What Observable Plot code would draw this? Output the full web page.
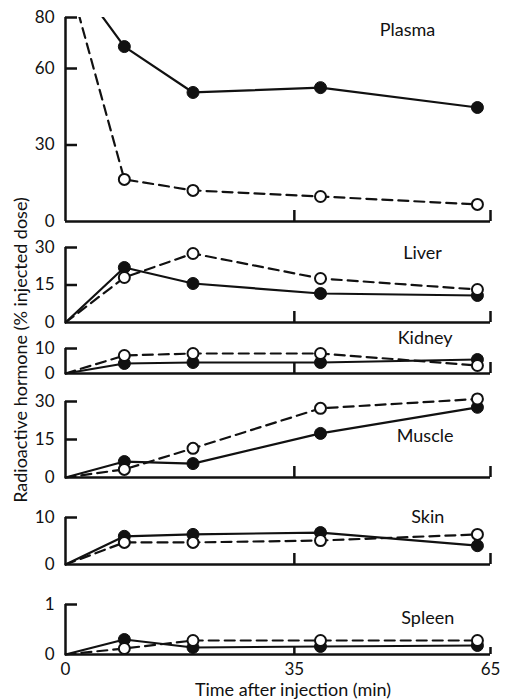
<!DOCTYPE html>
<html><head><meta charset="utf-8">
<script src="https://cdn.jsdelivr.net/npm/d3@7"></script>
<script src="https://cdn.jsdelivr.net/npm/@observablehq/plot@0.6"></script>
<style>
body{margin:0;background:#fff;}
#chart{position:relative;width:505px;height:699px;font-family:Lato,"Open Sans",sans-serif;color:#111;overflow:hidden;}
#chart svg{position:absolute;left:0;}
.title{position:absolute;white-space:nowrap;font-size:18px;color:#111;}
</style></head><body><div id="chart"></div>
<script>
// ---- data ----
const times = [0, 9, 19.5, 39, 63];
const xTicks = [0, 35, 65];
const organs = ["Plasma", "Liver", "Kidney", "Muscle", "Skin", "Spleen"];
const plasmaSolid = [100, 68.6, 50.6, 52.5, 44.7];
const plasmaOpen  = [100, 16.5, 12.2, 9.8, 6.7];
const liverSolid  = [0, 22, 15.6, 11.6, 10.8];
const liverOpen   = [0, 18, 27.6, 17.6, 13.2];
const kidneySolid = [0, 4, 4.4, 4.4, 5.6];
const kidneyOpen  = [0, 7.2, 8, 8, 3.2];
const muscleSolid = [0, 6.3, 5.5, 17.4, 27.7];
const muscleOpen  = [0, 3.2, 11.5, 27.3, 31];
const skinSolid   = [0, 6, 6.4, 6.8, 4];
const skinOpen    = [0, 4.7, 4.7, 5.1, 6.4];
const spleenSolid = [0, 0.3, 0.14, 0.16, 0.18];
const spleenOpen  = [0, 0.12, 0.28, 0.28, 0.28];
const yMaxes = [80, 30, 10, 30, 10, 1];
const yTickValues = [[0, 30, 60, 80], [0, 15, 30], [0, 10], [0, 15, 30], [0, 10], [0, 1]];

// ---- layout (pixels / label anchors) ----
const frames = [
  {top: 17, bottom: 221, label: [52.3, 74.9], clip: true},
  {top: 247, bottom: 322, label: [54.6, 27.6]},
  {top: 348, bottom: 373, label: [55, 14]},
  {top: 401, bottom: 477, label: [55, 16.2]},
  {top: 517, bottom: 564, label: [55.4, 10]},
  {top: 604, bottom: 654, label: [55.4, 0.72], last: true}
];
const solids = [plasmaSolid, liverSolid, kidneySolid, muscleSolid, skinSolid, spleenSolid];
const opens = [plasmaOpen, liverOpen, kidneyOpen, muscleOpen, skinOpen, spleenOpen];

const W = 505, ML = 65, MR = 15;
const ink = "#111";
const chart = document.getElementById("chart");
const xPxPerUnit = (W - ML - MR) / 65;

organs.forEach((name, i) => {
  const f = frames[i];
  const mt = 24, mb = f.last ? 30 : 4;
  const fh = f.bottom - f.top;
  const ymax = yMaxes[i];
  const solid = times.map((t, j) => ({t, v: solids[i][j]}));
  const open = times.map((t, j) => ({t, v: opens[i][j]}));
  const tickLenY = (f.last ? 7 : 11) * ymax / fh;
  const tickLenX = 12 / xPxPerUnit;
  const marks = [
    Plot.line(open, {x: "t", y: "v", stroke: ink, strokeWidth: 2.2, strokeDasharray: "10,6", clip: !!f.clip}),
    Plot.line(solid, {x: "t", y: "v", stroke: ink, strokeWidth: 2.2, clip: !!f.clip}),
    Plot.dot(solid.filter(d => d.t > 0), {x: "t", y: "v", r: 6, fill: ink, stroke: ink, strokeWidth: 1}),
    Plot.dot(open.filter(d => d.t > 0), {x: "t", y: "v", r: 5.5, fill: "white", stroke: ink, strokeWidth: 2}),
    Plot.ruleY([0], {stroke: ink, strokeWidth: 2.5}),
    Plot.ruleX([0], {stroke: ink, strokeWidth: 2.5}),
    Plot.ruleY(yTickValues[i].filter(v => v > 0), {y: d => d, x1: 0, x2: tickLenX, stroke: ink, strokeWidth: 2.5}),
    Plot.ruleX(xTicks.filter(v => v > 0), {x: d => d, y1: 0, y2: tickLenY, stroke: ink, strokeWidth: 2.5}),
    Plot.axisY(yTickValues[i], {tickSize: 0, tickPadding: 11, fontSize: 17, fill: ink, label: null, tickFormat: d => String(d)}),
    Plot.text([name], {x: () => f.label[0], y: () => f.label[1], fontSize: 18, fill: ink, textAnchor: "middle"})
  ];
  if (f.last) marks.push(Plot.axisX(xTicks, {tickSize: 0, tickPadding: 8, fontSize: 17, fill: ink, label: null, tickFormat: d => String(d)}));
  const svg = Plot.plot({
    width: W, height: fh + mt + mb,
    marginLeft: ML, marginRight: MR, marginTop: mt, marginBottom: mb,
    style: {background: "transparent", overflow: "visible", fontFamily: "Lato, 'Open Sans', sans-serif", color: ink},
    x: {domain: [0, 65], axis: null},
    y: {domain: [0, ymax], axis: null},
    marks
  });
  svg.style.position = "absolute";
  svg.style.top = (f.top - mt) + "px";
  chart.appendChild(svg);
});

const yt = document.createElement("div");
yt.className = "title";
yt.textContent = "Radioactive hormone (% injected dose)";
yt.style.left = "20px"; yt.style.top = "350px";
yt.style.transform = "translate(-50%,-50%) rotate(-90deg)";
chart.appendChild(yt);

const xt = document.createElement("div");
xt.className = "title";
xt.textContent = "Time after injection (min)";
xt.style.left = "293px"; xt.style.top = "689px";
xt.style.transform = "translate(-50%,-50%)";
chart.appendChild(xt);
</script></body></html>
